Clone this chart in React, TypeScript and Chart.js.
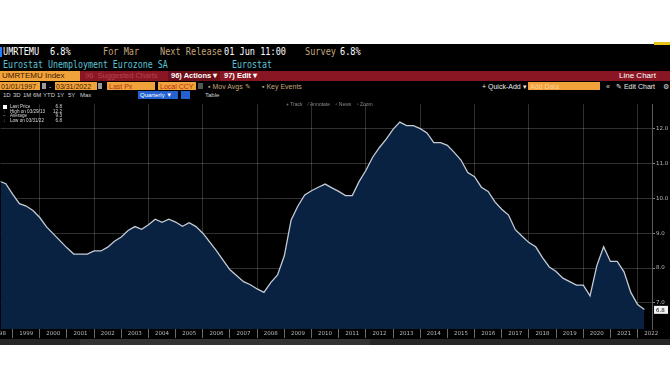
import React, { useEffect, useRef } from "react";
import { Chart, registerables } from "chart.js";

Chart.register(...registerables);

// Quarter-end observations (visible window of the screenshot)
const quarters = [
  "1998Q2", "1998Q3", "1998Q4",
  "1999Q1", "1999Q2", "1999Q3", "1999Q4",
  "2000Q1", "2000Q2", "2000Q3", "2000Q4",
  "2001Q1", "2001Q2", "2001Q3", "2001Q4",
  "2002Q1", "2002Q2", "2002Q3", "2002Q4",
  "2003Q1", "2003Q2", "2003Q3", "2003Q4",
  "2004Q1", "2004Q2", "2004Q3", "2004Q4",
  "2005Q1", "2005Q2", "2005Q3", "2005Q4",
  "2006Q1", "2006Q2", "2006Q3", "2006Q4",
  "2007Q1", "2007Q2", "2007Q3", "2007Q4",
  "2008Q1", "2008Q2", "2008Q3", "2008Q4",
  "2009Q1", "2009Q2", "2009Q3", "2009Q4",
  "2010Q1", "2010Q2", "2010Q3", "2010Q4",
  "2011Q1", "2011Q2", "2011Q3", "2011Q4",
  "2012Q1", "2012Q2", "2012Q3", "2012Q4",
  "2013Q1", "2013Q2", "2013Q3", "2013Q4",
  "2014Q1", "2014Q2", "2014Q3", "2014Q4",
  "2015Q1", "2015Q2", "2015Q3", "2015Q4",
  "2016Q1", "2016Q2", "2016Q3", "2016Q4",
  "2017Q1", "2017Q2", "2017Q3", "2017Q4",
  "2018Q1", "2018Q2", "2018Q3", "2018Q4",
  "2019Q1", "2019Q2", "2019Q3", "2019Q4",
  "2020Q1", "2020Q2", "2020Q3", "2020Q4",
  "2021Q1", "2021Q2", "2021Q3", "2021Q4",
  "2022Q1",
];

const unemployment = [
  10.5, 10.42, 10.12,
  9.85, 9.78, 9.65, 9.45,
  9.18, 8.98, 8.78, 8.58,
  8.4, 8.4, 8.4, 8.49,
  8.49, 8.6, 8.77, 8.89,
  9.08, 9.19, 9.11, 9.24,
  9.4, 9.31, 9.4, 9.32,
  9.2, 9.3, 9.19, 9.0,
  8.75, 8.5, 8.22, 7.95,
  7.78, 7.61, 7.52, 7.4,
  7.3, 7.58, 7.8, 8.35,
  9.38, 9.78, 10.1, 10.22,
  10.32, 10.41, 10.3, 10.2,
  10.08, 10.08, 10.48, 10.8,
  11.18, 11.46, 11.7, 11.98,
  12.19, 12.09, 12.09, 12.0,
  11.88, 11.6, 11.6, 11.52,
  11.32, 11.1, 10.74, 10.62,
  10.32, 10.2, 9.9, 9.69,
  9.52, 9.1, 8.91, 8.73,
  8.61, 8.3, 8.03, 7.9,
  7.71, 7.61, 7.51, 7.51,
  7.2, 8.07, 8.61, 8.19,
  8.19, 7.89, 7.3, 6.95,
  6.81,
];

const yearLabels = [
  "1998", "1999", "2000", "2001", "2002", "2003", "2004", "2005", "2006",
  "2007", "2008", "2009", "2010", "2011", "2012", "2013", "2014", "2015",
  "2016", "2017", "2018", "2019", "2020", "2021", "2022",
];

const yTickValues = [7, 8, 9, 10, 11, 12];
const lastPrice = 6.8;

const legendNames = ["Last Price", "High on 03/29/13", "Average", "Low on 03/31/22"];
const legendValues = ["6.8", "12.2", "9.3", "6.8"];

function quarterToDecimal(q: string): number {
  const y = parseInt(q.slice(0, 4), 10);
  const k = parseInt(q.slice(5), 10);
  return y + k * 0.25;
}

const GRID = "rgba(255,255,255,0.19)";

const lastLabelPlugin = {
  id: "lastLabel",
  afterDraw(chart: any) {
    const { ctx } = chart;
    const ys = chart.scales.y;
    const y = ys.getPixelForValue(lastPrice);
    const x = chart.chartArea.right + 2;
    ctx.save();
    ctx.fillStyle = "#f2f2f2";
    ctx.fillRect(x, y - 4, 14, 8);
    ctx.fillStyle = "#000";
    ctx.font = "5.5px 'DejaVu Sans'";
    ctx.textBaseline = "middle";
    ctx.textAlign = "left";
    ctx.fillText(lastPrice.toFixed(1), x + 2, y + 0.5);
    ctx.restore();
  },
};

const mono: React.CSSProperties = {
  position: "absolute",
  fontFamily: "'DejaVu Sans Mono', monospace",
  fontSize: 11,
  lineHeight: "12px",
  whiteSpace: "pre",
  transform: "scaleX(0.78)",
  transformOrigin: "left center",
};

const sans: React.CSSProperties = {
  position: "absolute",
  fontFamily: "'Liberation Sans', Arial, sans-serif",
  whiteSpace: "pre",
};

function T(props: { x: number; y: number; c: string; s?: React.CSSProperties; children: React.ReactNode; mono?: boolean; fs?: number }) {
  const base = props.mono ? mono : sans;
  return (
    <div style={{ ...base, left: props.x, top: props.y, color: props.c, ...(props.fs ? { fontSize: props.fs, lineHeight: props.fs + 2 + "px" } : {}), ...(props.s || {}) }}>
      {props.children}
    </div>
  );
}

function Box(props: { x: number; y: number; w: number; h: number; bg: string; s?: React.CSSProperties }) {
  return <div style={{ position: "absolute", left: props.x, top: props.y, width: props.w, height: props.h, background: props.bg, ...(props.s || {}) }} />;
}

export default function App() {
  const canvasRef = useRef<HTMLCanvasElement | null>(null);

  useEffect(() => {
    if (!canvasRef.current) return;
    const points = unemployment.map((v, i) => ({ x: quarterToDecimal(quarters[i]), y: v }));
    const years = yearLabels.map((s) => parseInt(s, 10));
    const chart = new Chart(canvasRef.current, {
      type: "line",
      data: {
        datasets: [
          {
            data: points,
            borderColor: "#c3cbd6",
            borderWidth: 1.3,
            backgroundColor: "#0a2241",
            fill: "start",
            pointRadius: 0,
            tension: 0,
          },
        ],
      },
      options: {
        animation: false,
        responsive: false,
        maintainAspectRatio: false,
        layout: { padding: 0 },
        plugins: { legend: { display: false }, tooltip: { enabled: false } },
        scales: {
          x: {
            type: "linear",
            position: "bottom",
            z: 1,
            min: 1998.56,
            max: 2022.53,
            afterBuildTicks: (scale: any) => {
              const t: any[] = [];
              years.forEach((y) => {
                if (y > years[0]) t.push({ value: y });
                t.push({ value: y + 0.5 });
              });
              scale.ticks = t;
            },
            afterFit: (scale: any) => {
              scale.height = 17;
            },
            border: { display: false },
            grid: {
              color: (ctx: any) => {
                const v = ctx.tick ? ctx.tick.value : 0;
                return Number.isInteger(v) && v % 2 === 0 ? GRID : "rgba(0,0,0,0)";
              },
              tickColor: (ctx: any) => {
                const v = ctx.tick ? ctx.tick.value : 0;
                return Number.isInteger(v) ? "#6a6a6a" : "rgba(0,0,0,0)";
              },
              tickLength: 9,
              lineWidth: 1,
            },
            ticks: {
              autoSkip: false,
              maxRotation: 0,
              minRotation: 0,
              padding: -8,
              color: "#b8b8b8",
              font: { size: 5.5, family: "'DejaVu Sans'" },
              callback: (value: any) => {
                const v = Number(value);
                if (Number.isInteger(v)) return "";
                const idx = years.indexOf(Math.floor(v));
                return idx >= 0 ? yearLabels[idx] : "";
              },
            },
          },
          y: {
            type: "linear",
            position: "right",
            z: 1,
            min: 6.25,
            max: 12.7,
            afterBuildTicks: (scale: any) => {
              scale.ticks = yTickValues.map((v) => ({ value: v }));
            },
            afterFit: (scale: any) => {
              scale.width = 18;
            },
            border: { display: true, color: "#5a5a5a" },
            grid: { color: GRID, tickColor: "#888", tickLength: 3 },
            ticks: {
              padding: 1,
              color: "#b8b8b8",
              font: { size: 5.5, family: "'DejaVu Sans'" },
              callback: (v: any) => Number(v).toFixed(1),
            },
          },
        },
      },
      plugins: [lastLabelPlugin],
    } as any);
    return () => chart.destroy();
  }, []);

  const tan = "#c4a57a";
  const orange = "#f2a23a";
  const red = "#8a1623";

  return (
    <div style={{ position: "fixed", left: 0, top: 0, width: 670, height: 388, background: "#fff", overflow: "hidden" }}>
      <Box x={0} y={44} w={670} h={301} bg="#000" />
      <Box x={654} y={42} w={16} h={3} bg="#e6c21a" />

      {/* Row 1 */}
      <Box x={0} y={47} w={2} h={10} bg="#2f7dff" />
      <T mono x={3} y={46} c="#ffffff">UMRTEMU</T>
      <T mono x={50} y={46} c="#ffffff">6.8%</T>
      <T mono x={103} y={46} c={tan}>For Mar</T>
      <T mono x={160} y={46} c={tan}>Next Release</T>
      <T mono x={224} y={46} c="#ffffff">01 Jun 11:00</T>
      <T mono x={305} y={46} c={tan}>Survey</T>
      <T mono x={340} y={46} c="#ffffff">6.8%</T>

      {/* Row 2 */}
      <T mono x={3} y={58} c="#5cc3d6" s={{ fontSize: 10.5, transform: "scaleX(0.79)" }}>Eurostat Unemployment Eurozone SA</T>
      <T mono x={232} y={58} c="#5cc3d6" s={{ fontSize: 10.5, transform: "scaleX(0.79)" }}>Eurostat</T>

      {/* Row 3: red bar */}
      <Box x={0} y={71} w={670} h={10} bg={red} />
      <Box x={0} y={71} w={80} h={10} bg={orange} />
      <T x={2} y={71} c="#3a1a00" fs={8}>UMRTEMU Index</T>
      <T x={85} y={71} c="#b8424f" fs={7.5}>96  Suggested Charts</T>
      <Box x={168} y={71} w={52} h={10} bg="#6e0f19" />
      <T x={171} y={71} c="#ffffff" fs={7.5} s={{ fontWeight: 700 }}>96) Actions ▾</T>
      <T x={224} y={71} c="#ffffff" fs={7.5} s={{ fontWeight: 700 }}>97) Edit ▾</T>
      <T x={619} y={71} c="#ffffff" fs={8}>Line Chart</T>

      {/* Row 4 */}
      <Box x={0} y={82} w={40} h={8} bg={orange} />
      <T x={1} y={81.5} c="#3a1a00" fs={7}>01/01/1997</T>
      <Box x={42} y={83} w={4} h={6} bg="#9a9a9a" />
      <T x={49} y={81.5} c="#cccccc" fs={7}>-</T>
      <Box x={55} y={82} w={42} h={8} bg={orange} />
      <T x={56} y={81.5} c="#3a1a00" fs={7}>03/31/2022</T>
      <Box x={98} y={83} w={4} h={6} bg="#9a9a9a" />
      <Box x={107} y={82} w={48} h={8} bg={orange} />
      <T x={109} y={81.5} c="#b0301a" fs={7}>Last Px</T>
      <Box x={158} y={82} w={38} h={8} bg={orange} />
      <T x={160} y={81.5} c="#b0301a" fs={7}>Local CCY</T>
      <Box x={198} y={83} w={5} h={6} bg="#555" />
      <T x={208} y={81.5} c={tan} fs={7}>▪ Mov Avgs ✎</T>
      <T x={262} y={81.5} c={tan} fs={7}>▪ Key Events</T>
      <T x={482} y={81.5} c="#e8e8e8" fs={7}>+ Quick-Add ▾</T>
      <Box x={528} y={82} w={72} h={8} bg={orange} />
      <T x={530} y={81.5} c="#fbd29a" fs={7}>Add Data</T>
      <T x={606} y={81.5} c="#dddddd" fs={7}>«</T>
      <T x={616} y={81.5} c="#e8e8e8" fs={7}>✎ Edit Chart</T>
      <T x={663} y={81.5} c="#dddddd" fs={7}>⚙</T>

      {/* Row 5 */}
      <T x={3} y={91} c="#cfcfcf" fs={6}>1D</T>
      <T x={13} y={91} c="#cfcfcf" fs={6}>3D</T>
      <T x={23} y={91} c="#cfcfcf" fs={6}>1M</T>
      <T x={33} y={91} c="#cfcfcf" fs={6}>6M</T>
      <T x={43} y={91} c="#cfcfcf" fs={6}>YTD</T>
      <T x={57} y={91} c="#cfcfcf" fs={6}>1Y</T>
      <T x={68} y={91} c="#cfcfcf" fs={6}>5Y</T>
      <T x={80} y={91} c="#cfcfcf" fs={6}>Max</T>
      <Box x={138} y={91} w={40} h={8} bg="#2361d1" />
      <T x={140} y={91} c="#ffffff" fs={6}>Quarterly ▼</T>
      <Box x={181} y={91} w={9} h={8} bg="#2361d1" />
      <T x={205} y={91} c="#cfcfcf" fs={6}>Table</T>

      <canvas ref={canvasRef} width={670} height={246} style={{ position: "absolute", left: 0, top: 100, width: 670, height: 246 }} />

      {/* chart overlays */}
      <T x={286} y={101} c="#8a8a8a" fs={5}>+ Track    ⁄ Annotate    ▫ News    ▫ Zoom</T>
      <Box x={3} y={104.5} w={4} h={4} bg="#ffffff" />
      <T x={3} y={108.5} c="#999" fs={4.5}>↑</T>
      <T x={3} y={113.2} c="#999" fs={4.5}>~</T>
      <T x={3} y={117.9} c="#999" fs={4.5}>↓</T>
      {legendNames.map((n, i) => (
        <T key={n} x={10} y={103.8 + i * 4.7} c="#d8d8d8" fs={4.6} s={{ lineHeight: "5px" }}>{n}</T>
      ))}
      {legendValues.map((v, i) => (
        <div key={i} style={{ ...sans, left: 42, width: 20, top: 103.8 + i * 4.7, color: "#d8d8d8", fontSize: 4.6, lineHeight: "5px", textAlign: "right" }}>
          {v}
        </div>
      ))}

      <Box x={0} y={339} w={670} h={6} bg="#262626" />
      <Box x={80} y={339} w={290} h={6} bg="#333" />
    </div>
  );
}
